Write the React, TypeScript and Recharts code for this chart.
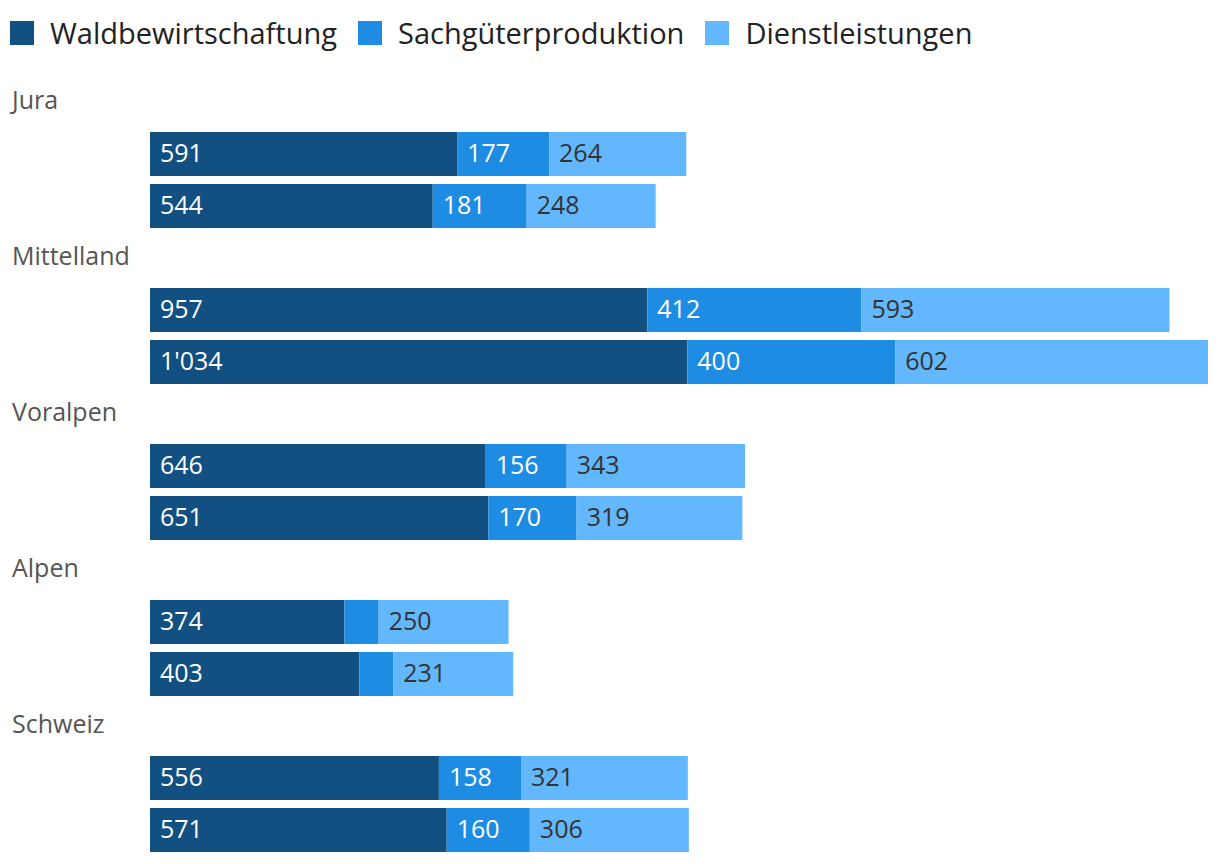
import { BarChart, Bar, XAxis, YAxis, LabelList } from "recharts";

const regions = ["Jura", "Mittelland", "Voralpen", "Alpen", "Schweiz"];
const seriesNames = ["Waldbewirtschaftung", "Sachgüterproduktion", "Dienstleistungen"];
const colors = ["#115081", "#1E8CE3", "#63B8FD"];

// two bars per region, in the order they appear
const waldbewirtschaftung = [591, 544, 957, 1034, 646, 651, 374, 403, 556, 571];
const sachgueterproduktion = [177, 181, 412, 400, 156, 170, 66, 65, 158, 160];
const dienstleistungen = [264, 248, 593, 602, 343, 319, 250, 231, 321, 306];

const FONT = "'Open Sans', sans-serif";

// each region gets a header row (label only) followed by its two bars
const data: any[] = [];
regions.forEach((region, i) => {
  data.push({ key: region });
  for (let j = 0; j < 2; j++) {
    const idx = i * 2 + j;
    data.push({
      key: `${region}-${j + 1}`,
      wald: waldbewirtschaftung[idx],
      sach: sachgueterproduktion[idx],
      dienst: dienstleistungen[idx],
    });
  }
});

const fmt = (v: number) => String(v).replace(/\B(?=(\d{3})+(?!\d))/g, "'");

const RegionTick = (props: any) => {
  const { y, payload } = props;
  if (!regions.includes(payload.value)) return null;
  return (
    <text x={12} y={y - 3} dominantBaseline="central" fill="#555" fontSize={25} fontFamily={FONT}>
      {payload.value}
    </text>
  );
};

const makeLabel = (fill: string) => (props: any) => {
  const { x, y, width, height, value } = props;
  if (value == null || width < 50) return null;
  return (
    <text x={x + 10} y={y + height / 2 - 2} dominantBaseline="central" fill={fill} fontSize={25} fontFamily={FONT}>
      {fmt(value)}
    </text>
  );
};

export default function App() {
  const keys = ["wald", "sach", "dienst"];
  return (
    <div style={{ position: "absolute", left: 0, top: 0, width: 1220, height: 864, background: "#fff" }}>
      <div style={{ position: "absolute", left: 10, top: 16, display: "flex", alignItems: "center", fontFamily: FONT }}>
        {seriesNames.map((name, i) => (
          <div key={name} style={{ display: "flex", alignItems: "center", marginRight: 21 }}>
            <div style={{ width: 24, height: 24, background: colors[i], marginRight: 16 }} />
            <span style={{ fontSize: 29, color: "#222", lineHeight: "34px" }}>{name}</span>
          </div>
        ))}
      </div>
      <div style={{ position: "absolute", left: 0, top: 76 }}>
        <BarChart
          width={1220}
          height={780}
          data={data}
          layout="vertical"
          margin={{ top: 0, right: 12, bottom: 0, left: 0 }}
          barSize={44}
        >
          <XAxis type="number" domain={[0, 2036]} hide />
          <YAxis
            type="category"
            dataKey="key"
            width={150}
            axisLine={false}
            tickLine={false}
            tick={<RegionTick />}
            interval={0}
          />
          {keys.map((k, i) => (
            <Bar key={k} dataKey={k} stackId="a" fill={colors[i]} isAnimationActive={false}>
              <LabelList dataKey={k} content={makeLabel(i < 2 ? "#fff" : "#333")} />
            </Bar>
          ))}
        </BarChart>
      </div>
    </div>
  );
}
